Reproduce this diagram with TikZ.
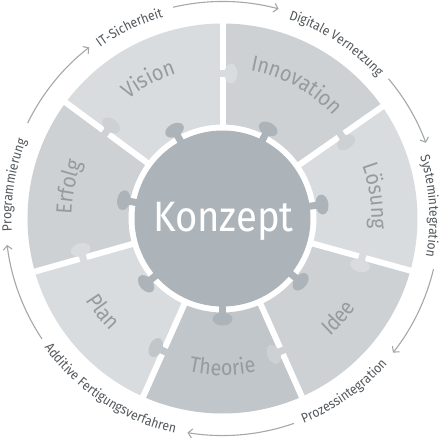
\documentclass[tikz,border=0pt]{standalone}
\usepackage{fontspec}
\setmainfont{Fira Sans}[FakeStretch=0.9]
\usetikzlibrary{decorations.text,arrows.meta}
\definecolor{seglight}{HTML}{D9DCDE}
\definecolor{segmid}{HTML}{CDD1D4}
\definecolor{segdark}{HTML}{C1C6CA}
\definecolor{core}{HTML}{ADB4B9}
\definecolor{segtext}{HTML}{959BA0}
\definecolor{outtext}{HTML}{53585C}
\definecolor{arrowgrey}{HTML}{A3A8AB}
\newcommand\mysegfont{\fontsize{22}{26}\selectfont\color{segtext}}
\newcommand\myoutfont{\fontsize{13.5}{16}\selectfont\color{outtext}}
\newcommand\mysector[3]{\fill[#3] (#1:94pt) -- (#1:195pt) arc[start angle=#1,end angle=#2,radius=195pt] -- (#2:94pt) arc[start angle=#2,end angle=#1,radius=94pt] -- cycle;}
\newcommand\mygapknob[2]{\begin{scope}[rotate=#1]
  \fill[#2] (145pt,-8.5pt) ellipse[x radius=10pt,y radius=6.5pt];
  \fill[#2] (141.5pt,-8pt) rectangle (148.5pt,3.5pt);
\end{scope}}
% clockwise text (tops outward)
\newcommand\mycwtext[4]{\path[decorate,decoration={text along path,text align=center,text={|#4|#3}}]
  ({#1+45}:#2) arc[start angle={#1+45},end angle={#1-45},radius=#2];}
% counter-clockwise text (tops inward)
\newcommand\myccwtext[4]{\path[decorate,decoration={text along path,text align=center,text={|#4|#3}}]
  ({#1-45}:#2) arc[start angle={#1-45},end angle={#1+45},radius=#2];}
\tikzset{
  divider/.style={white,line width=6pt},
  flowarc/.style={arrowgrey,line width=1.1pt,-{Straight Barb[length=4pt,width=9pt]}},
}
\begin{document}
\begin{tikzpicture}
\useasboundingbox (-222.5pt,-225.5pt) rectangle (221.5pt,218.5pt);
\fill[white] (-222.5pt,-225.5pt) rectangle (221.5pt,218.5pt);
% segments
\mysector{143.5}{90}{seglight}
\mysector{90}{35}{segmid}
\mysector{35}{-15.5}{seglight}
\mysector{-15.5}{-66}{segmid}
\mysector{-66}{-114}{segdark}
\mysector{-114}{-164.2}{seglight}
\mysector{-164.2}{-216.5}{segmid}
% dividers
\foreach \a in {90,35,-15.5,-66,-114,-164.2,143.5}
  \draw[divider] (\a:90pt) -- (\a:200pt);
% knobs between segments
\mygapknob{90}{seglight}
\mygapknob{35}{segmid}
\mygapknob{-15.5}{seglight}
\mygapknob{-66}{segmid}
\mygapknob{-114}{segdark}
\mygapknob{-164.2}{seglight}
\mygapknob{143.5}{segmid}
% centre
\fill[core] (0,0) circle[radius=88pt];
\foreach \a in {118.5,63,8,-39,-90,-139.5,169.5}{
  \fill[core,rotate=\a] (100.5pt,0pt) ellipse[x radius=6.5pt,y radius=10pt];
  \fill[core,rotate=\a] (85pt,-3.5pt) rectangle (100pt,3.5pt);
}
\node[anchor=base,text=white,font=\fontsize{42.5}{48}\selectfont,inner sep=0pt] (konzept) at (0.8pt,-13.2pt) {Konzept};
% segment labels
\mycwtext{118}{152pt}{Vision}{\mysegfont}
\mycwtext{61}{151pt}{Innovation}{\mysegfont}
\mycwtext{8.3}{149pt}{Lösung}{\mysegfont}
\myccwtext{-40.7}{160pt}{Idee}{\mysegfont}
\myccwtext{-90}{157pt}{Theorie}{\mysegfont}
\myccwtext{-142}{159pt}{Plan}{\mysegfont}
\mycwtext{168.5}{151pt}{Erfolg}{\mysegfont}
% outer labels
\mycwtext{116}{210pt}{IT-Sicherheit}{\myoutfont}
\mycwtext{57}{210pt}{Digitale Vernetzung}{\myoutfont}
\mycwtext{3.4}{207pt}{Systemintegration}{\myoutfont}
\mycwtext{171}{211pt}{Programmierung}{\myoutfont}
\myccwtext{-54.9}{220pt}{Prozessintegration}{\myoutfont}
\myccwtext{-123.3}{220pt}{Additive Fertigungsverfahren}{\myoutfont}
% flow arcs
\draw[flowarc] (153.9:217pt) arc[start angle=153.9,end angle=127.9,radius=217pt];
\draw[flowarc] (103.2:217pt) arc[start angle=103.2,end angle=75,radius=217pt];
\draw[flowarc] (40.1:217pt) arc[start angle=40.1,end angle=20.4,radius=217pt];
\draw[flowarc] (-13.5:217pt) arc[start angle=-13.5,end angle=-38.2,radius=217pt];
\draw[flowarc] (-70.8:217pt) arc[start angle=-70.8,end angle=-99.3,radius=217pt];
\draw[flowarc] (-146.3:217pt) arc[start angle=-146.3,end angle=-173,radius=217pt];
\end{tikzpicture}
\end{document}
